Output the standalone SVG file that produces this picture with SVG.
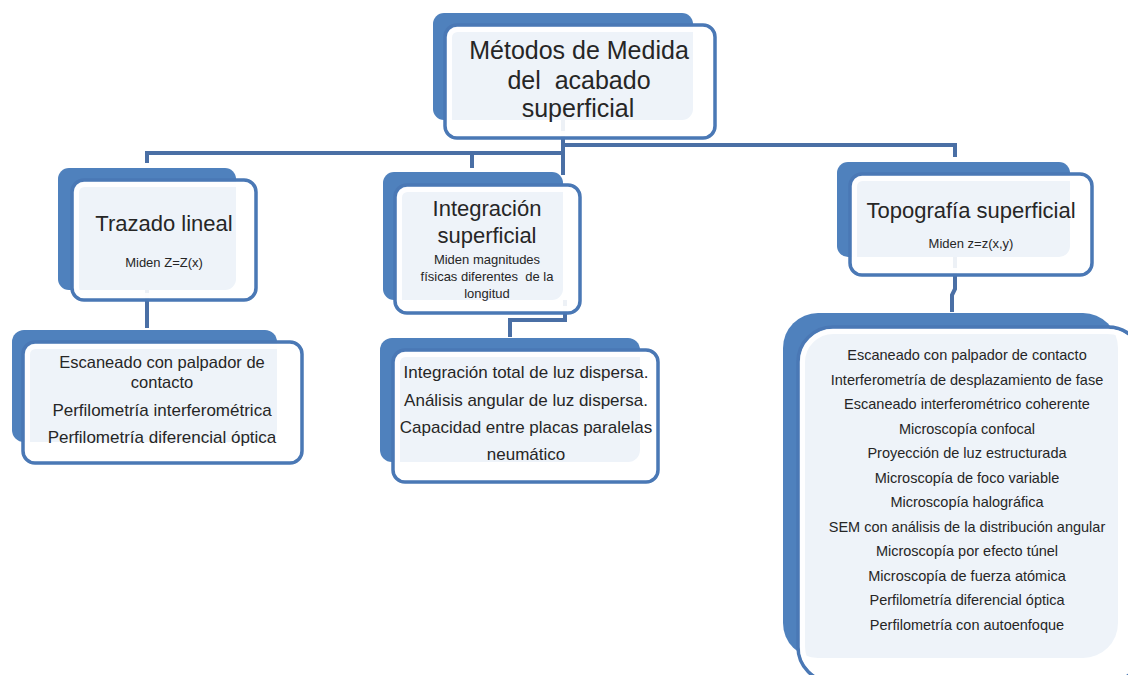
<svg xmlns="http://www.w3.org/2000/svg" width="1128" height="675" viewBox="0 0 1128 675">
<style>
.back{fill:#4f81bd;}
.front{fill:#ffffff;fill-opacity:0.9;stroke:#4a78b5;stroke-width:3.5;}
.band{fill:none;stroke:#ffffff;stroke-opacity:0.9;stroke-width:5;}
.conn{fill:none;stroke:#4a6fa5;stroke-width:4;stroke-linejoin:miter;}
.t{font-family:"Liberation Sans",Arial,sans-serif;fill:#262626;text-anchor:middle;}
.h1{font-size:25px;}
.h2{font-size:22px;}
.s{font-size:13px;}
.m{font-size:17px;}
.m2{font-size:16.5px;}
.l{font-size:14.5px;}
</style>
<rect width="1128" height="675" fill="#ffffff"/>
<g id="connectors">
<path class="conn" d="M563,120 V175"/>
<path class="conn" d="M147,163 V153 H563"/>
<path class="conn" d="M472,153 V168"/>
<path class="conn" d="M563,145 H955 V157"/>
<path class="conn" d="M147,287 V328"/>
<path class="conn" d="M565,300 V320 H510 V337"/>
<path class="conn" d="M955,257 V289 L952,295 V312"/>
</g>
<g id="root">
<rect class="back" x="433" y="13" width="260" height="107" rx="11"/>
<rect class="front" x="445" y="25" width="270" height="113" rx="12"/>
<rect class="band" x="449.5" y="29.5" width="261" height="104" rx="8"/>
<text class="t h1" x="579" y="59">Métodos de Medida</text>
<text class="t h1" x="579" y="89" xml:space="preserve">del  acabado</text>
<text class="t h1" x="578" y="117">superficial</text>
</g>
<g id="trazado">
<rect class="back" x="58" y="168" width="178" height="122" rx="11"/>
<rect class="front" x="72" y="180" width="184" height="120" rx="12"/>
<rect class="band" x="76.5" y="184.5" width="175" height="111" rx="8"/>
<text class="t h2" x="164" y="231">Trazado lineal</text>
<text class="t s" x="164" y="267">Miden Z=Z(x)</text>
</g>
<g id="integracion">
<rect class="back" x="383" y="172" width="180" height="128" rx="11"/>
<rect class="front" x="395" y="185" width="185" height="128" rx="12"/>
<rect class="band" x="399.5" y="189.5" width="176" height="119" rx="8"/>
<text class="t h2" x="487" y="216">Integración</text>
<text class="t h2" x="487" y="243">superficial</text>
<text class="t s" x="487" y="264">Miden magnitudes</text>
<text class="t s" x="487" y="281" xml:space="preserve">físicas diferentes  de la</text>
<text class="t s" x="487" y="298">longitud</text>
</g>
<g id="topografia">
<rect class="back" x="837" y="162" width="233" height="95" rx="11"/>
<rect class="front" x="850" y="174" width="242" height="101" rx="12"/>
<rect class="band" x="854.5" y="178.5" width="233" height="92" rx="8"/>
<text class="t h2" x="971" y="218">Topografía superficial</text>
<text class="t s" x="971" y="248">Miden z=z(x,y)</text>
</g>
<g id="trazado-metodos">
<rect class="back" x="12" y="330" width="265" height="112" rx="12"/>
<rect class="front" x="23" y="342" width="279" height="121" rx="12"/>
<rect class="band" x="27.5" y="346.5" width="270" height="112" rx="8"/>
<text class="t m2" x="162" y="368">Escaneado con palpador de</text>
<text class="t m2" x="162" y="388">contacto</text>
<text class="t m" x="162" y="416">Perfilometría interferométrica</text>
<text class="t m" x="162" y="443">Perfilometría diferencial óptica</text>
</g>
<g id="integracion-metodos">
<rect class="back" x="380" y="338" width="260" height="124" rx="12"/>
<rect class="front" x="393" y="350" width="265" height="132" rx="12"/>
<rect class="band" x="397.5" y="354.5" width="256" height="123" rx="8"/>
<text class="t m" x="526" y="378">Integración total de luz dispersa.</text>
<text class="t m" x="526" y="406">Análisis angular de luz dispersa.</text>
<text class="t m" x="526" y="433">Capacidad entre placas paralelas</text>
<text class="t m" x="526" y="460">neumático</text>
</g>
<g id="topografia-metodos">
<rect class="back" x="783" y="313" width="335" height="345" rx="35"/>
<rect class="front" x="798" y="327" width="345" height="355" rx="35"/>
<rect class="band" x="802.5" y="331.5" width="336" height="346" rx="31"/>
<text class="t l" x="967" y="360">Escaneado con palpador de contacto</text>
<text class="t l" x="967" y="384.5">Interferometría de desplazamiento de fase</text>
<text class="t l" x="967" y="409">Escaneado interferométrico coherente</text>
<text class="t l" x="967" y="433.5">Microscopía confocal</text>
<text class="t l" x="967" y="458">Proyección de luz estructurada</text>
<text class="t l" x="967" y="482.5">Microscopía de foco variable</text>
<text class="t l" x="967" y="507">Microscopía halográfica</text>
<text class="t l" x="967" y="531.5">SEM con análisis de la distribución angular</text>
<text class="t l" x="967" y="556">Microscopía por efecto túnel</text>
<text class="t l" x="967" y="580.5">Microscopía de fuerza atómica</text>
<text class="t l" x="967" y="605">Perfilometría diferencial óptica</text>
<text class="t l" x="967" y="629.5">Perfilometría con autoenfoque</text>
</g>
</svg>
